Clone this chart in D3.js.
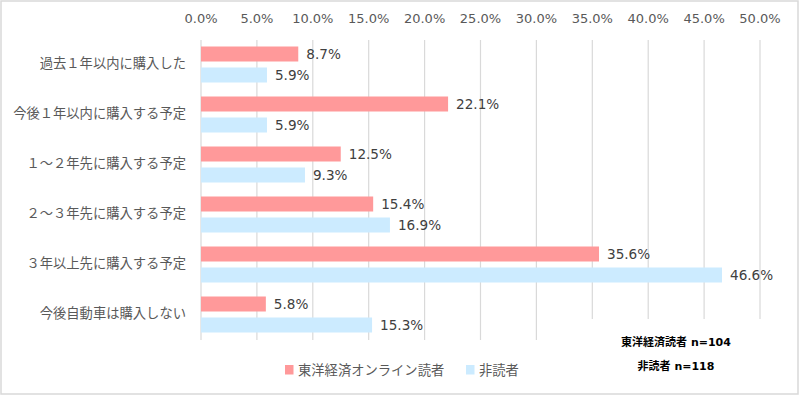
<!DOCTYPE html>
<html><head><meta charset="utf-8">
<script src="https://cdn.jsdelivr.net/npm/d3@7"></script>
<style>body{margin:0;background:#fff}svg{display:block}</style>
</head><body>
<script>
const categories = ["過去１年以内に購入した","今後１年以内に購入する予定","１～２年先に購入する予定","２～３年先に購入する予定","３年以上先に購入する予定","今後自動車は購入しない"];
const seriesNames = ["東洋経済オンライン読者","非読者"];
const readers = [8.7, 22.1, 12.5, 15.4, 35.6, 5.8];
const nonReaders = [5.9, 5.9, 9.3, 16.9, 46.6, 15.3];
const ticks = [0,5,10,15,20,25,30,35,40,45,50];
const notes = ["東洋経済読者 n=104","非読者 n=118"];
const colors = ["#FF999A","#CCEBFF"];

const W=800,H=396;
const font = "'DejaVu Sans','Noto Sans CJK JP',sans-serif";
const svg = d3.select("body").append("svg").attr("width",W).attr("height",H);
svg.append("rect").attr("x",1).attr("y",1).attr("width",W-3).attr("height",H-3).attr("fill","#fff").attr("stroke","#D9D9D9").attr("stroke-width",1.5);

const x = d3.scaleLinear().domain([0,50]).range([201,760]);
const y = d3.scaleBand().domain(categories).range([40,340]);

// gridlines
svg.append("g").selectAll("line").data(ticks).join("line")
  .attr("x1",d=>x(d)).attr("x2",d=>x(d)).attr("y1",40).attr("y2",340)
  .attr("stroke","#D9D9D9").attr("stroke-width",1.2);

// tick labels
svg.append("g").selectAll("text").data(ticks).join("text")
  .attr("x",d=>x(d)).attr("y",23).attr("text-anchor","middle")
  .attr("font-family",font).attr("font-size",13).attr("fill","#595959")
  .text(d=>d3.format(".1f")(d)+"%");

// category labels
svg.append("g").selectAll("text").data(categories).join("text")
  .attr("x",186).attr("y",d=>y(d)+y.bandwidth()/2-2).attr("dy","0.35em").attr("text-anchor","end")
  .attr("font-family",font).attr("font-size",13.3).attr("fill","#595959")
  .text(d=>d);

const series=[readers,nonReaders];
const offs=[6.5,27.5], bh=15;
series.forEach((vals,si)=>{
  const g=svg.append("g");
  g.selectAll("rect").data(vals).join("rect")
    .attr("x",x(0)).attr("y",(d,i)=>y(categories[i])+offs[si])
    .attr("width",d=>x(d)-x(0)).attr("height",bh)
    .attr("fill",colors[si]);
  g.selectAll("text").data(vals).join("text")
    .attr("x",d=>x(d)+8).attr("y",(d,i)=>y(categories[i])+offs[si]+bh/2).attr("dy","0.36em")
    .attr("font-family",font).attr("font-size",13.6).attr("fill","#404040")
    .text(d=>d3.format(".1f")(d)+"%");
});

// note box
svg.append("rect").attr("x",575).attr("y",319).attr("width",215).attr("height",60).attr("fill","#fff");
svg.append("g").selectAll("text").data(notes).join("text")
  .attr("x",676).attr("y",(d,i)=>342+i*24).attr("dy","0.35em").attr("text-anchor","middle")
  .attr("font-family",font).attr("font-size",11).attr("font-weight","bold").attr("fill","#000")
  .text(d=>d);

// legend
const lx=[285,466];
const lg=svg.append("g");
seriesNames.forEach((n,i)=>{
  lg.append("rect").attr("x",lx[i]).attr("y",365).attr("width",8.5).attr("height",9.5).attr("fill",colors[i]);
  lg.append("text").attr("x",lx[i]+13).attr("y",370).attr("dy","0.35em")
    .attr("font-family",font).attr("font-size",13.3).attr("fill","#595959").text(n);
});
</script>
</body></html>
